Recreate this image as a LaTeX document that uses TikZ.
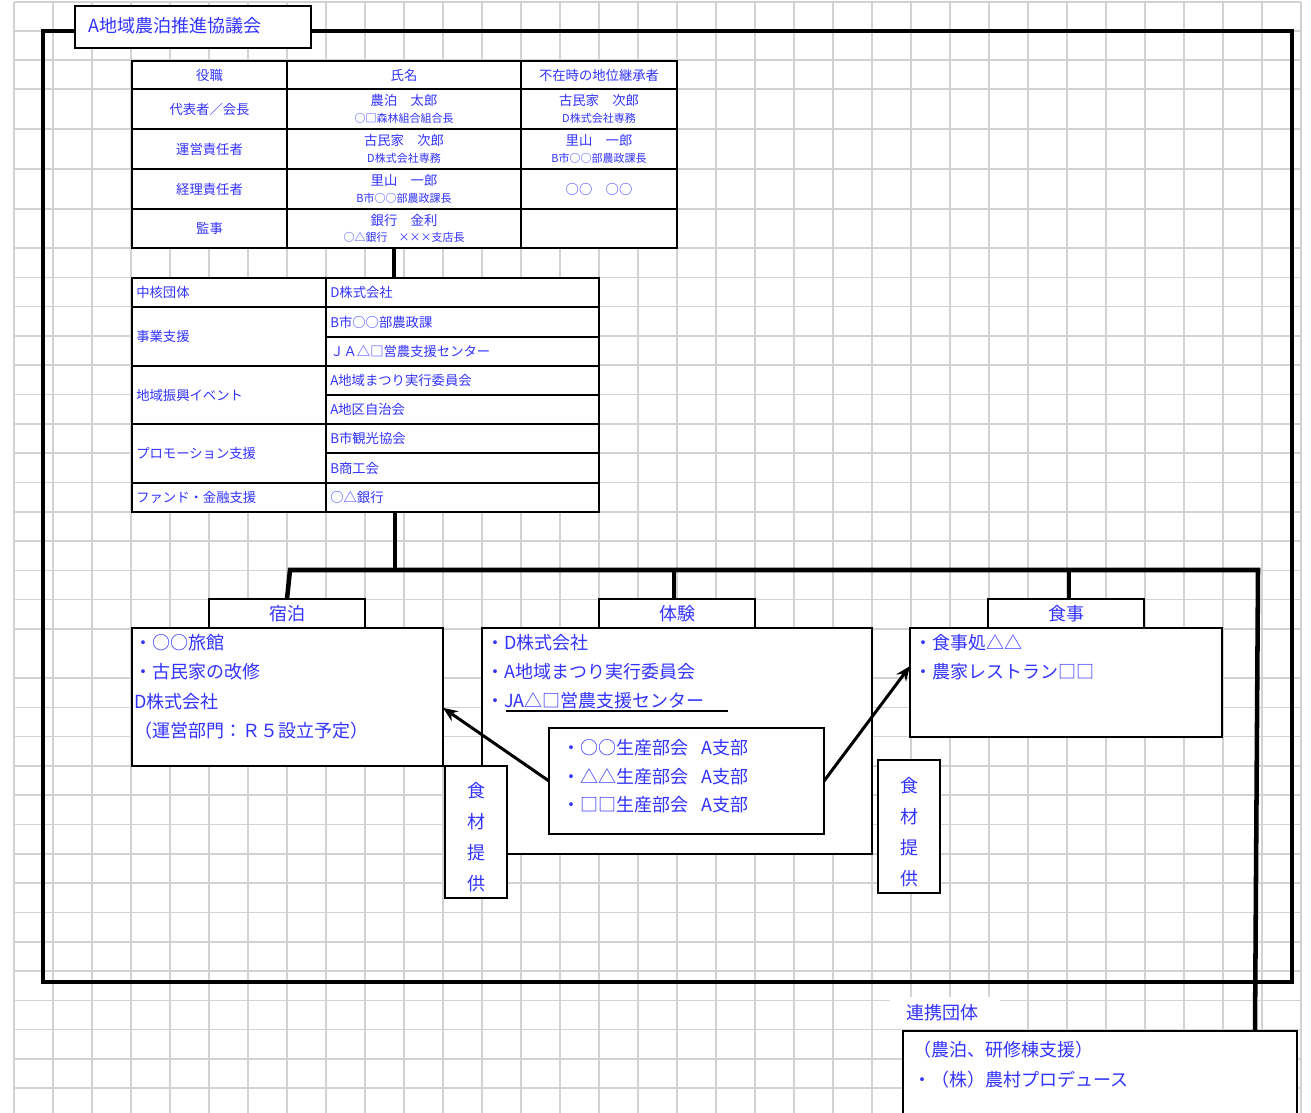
\documentclass[tikz,border=0pt]{standalone}
\usepackage{fontspec}
\newfontfamily\jp{Noto Sans CJK JP}
\usetikzlibrary{arrows.meta,calc}
\definecolor{jb}{RGB}{51,51,255}
\definecolor{gridc}{RGB}{210,210,210}
\newcommand\rbox[7][]{\node[rb,minimum width={(#5-#3)*0.75pt},minimum height={(#6-#4)*0.75pt},#1] (#2) at ({(#3+#5)/2},{(#4+#6)/2}) {#7};}
\tikzset{
  gridl/.style={draw=gridc,line width=1.2pt},
  frame/.style={line width=3pt},
  bus/.style={line width=3.4pt},
  rb/.style={draw=black,fill=white,line width=1.5pt,inner sep=0pt,outer sep=0pt,rectangle},
  thinbox/.style={line width=1.1pt},
  tcell/.style={text=jb,font=\jp\fontsize{10}{12}\selectfont},
  mtxt/.style={text=jb,font=\jp\fontsize{10}{12}\selectfont,inner sep=0pt,anchor=west},
  stxt/.style={text=jb,font=\jp\fontsize{8.25}{10}\selectfont,inner sep=0pt},
  ntxt/.style={text=jb,font=\jp\fontsize{10}{12}\selectfont,inner sep=0pt},
  btxt/.style={text=jb,font=\jp\fontsize{13.5}{16}\selectfont,inner sep=0pt,anchor=west},
  lbl/.style={text=jb,font=\jp\fontsize{13.5}{16}\selectfont},
  vtxt/.style={text=jb,font=\jp\fontsize{13.5}{23.25}\selectfont,align=center,inner sep=0pt},
  arr/.style={line width=2.25pt,-{Stealth[length=11pt,width=9pt]}},
}
\begin{document}
\begin{tikzpicture}[x=0.75pt,y=-0.75pt]
\useasboundingbox (0,0) rectangle (1311,1113);
% grid
\foreach \k in {0,...,33} \draw[gridl] ({14+39*\k},2) -- ({14+39*\k},1113);
\foreach \y in {2,31,60,89,129,169,209,248} \draw[gridl] (14,\y) -- (1301,\y);
\foreach \k in {1,...,13} \draw[gridl] (14,{248+29.3*\k}) -- (1301,{248+29.3*\k});
\foreach \k in {0,...,14} \draw[gridl] (14,{678+29.3*\k}) -- (1301,{678+29.3*\k});
% outer frame
\draw[frame] (43,31) rectangle (1292,982);
% title
\rbox{title}{75}{6}{311}{48}{}
\node[btxt] (titletext) at (88,26) {A地域農泊推進協議会};
% top table
\rbox[tcell]{h1}{132}{61}{287}{89}{役職}
\rbox[tcell]{h2}{287}{61}{521}{89}{氏名}
\rbox[tcell]{h3}{521}{61}{677}{89}{不在時の地位継承者}
\rbox[tcell]{r1a}{132}{89}{287}{129}{代表者／会長}
\rbox{r1b}{287}{89}{521}{129}{}
\rbox{r1c}{521}{89}{677}{129}{}
\rbox[tcell]{r2a}{132}{129}{287}{169}{運営責任者}
\rbox{r2b}{287}{129}{521}{169}{}
\rbox{r2c}{521}{129}{677}{169}{}
\rbox[tcell]{r3a}{132}{169}{287}{209}{経理責任者}
\rbox{r3b}{287}{169}{521}{209}{}
\rbox[tcell]{r3c}{521}{169}{677}{209}{○○　○○}
\rbox[tcell]{r4a}{132}{209}{287}{248}{監事}
\rbox{r4b}{287}{209}{521}{248}{}
\rbox{r4c}{521}{209}{677}{248}{}
\node[ntxt] (n1b) at ($(r1b)+(0,-8.5)$) {農泊　太郎};
\node[stxt] (s1b) at ($(r1b)+(0,9)$) {○□森林組合組合長};
\node[ntxt] (n1c) at ($(r1c)+(0,-8.5)$) {古民家　次郎};
\node[stxt] (s1c) at ($(r1c)+(0,9)$) {D株式会社専務};
\node[ntxt] (n2b) at ($(r2b)+(0,-8.5)$) {古民家　次郎};
\node[stxt] (s2b) at ($(r2b)+(0,9)$) {D株式会社専務};
\node[ntxt] (n2c) at ($(r2c)+(0,-8.5)$) {里山　一郎};
\node[stxt] (s2c) at ($(r2c)+(0,9)$) {B市○○部農政課長};
\node[ntxt] (n3b) at ($(r3b)+(0,-8.5)$) {里山　一郎};
\node[stxt] (s3b) at ($(r3b)+(0,9)$) {B市○○部農政課長};
\node[ntxt] (n4b) at ($(r4b)+(0,-8.5)$) {銀行　金利};
\node[stxt] (s4b) at ($(r4b)+(0,9)$) {○△銀行　×××支店長};
% middle table
\rbox{m1a}{132}{278}{326}{307}{}
\rbox{m2a}{132}{307}{326}{366}{}
\rbox{m3a}{132}{366}{326}{424}{}
\rbox{m4a}{132}{424}{326}{483}{}
\rbox{m5a}{132}{483}{326}{512}{}
\rbox{m1b}{326}{278}{599}{307}{}
\rbox{m2b}{326}{307}{599}{337}{}
\rbox{m2c}{326}{337}{599}{366}{}
\rbox{m3b}{326}{366}{599}{395}{}
\rbox{m3c}{326}{395}{599}{424}{}
\rbox{m4b}{326}{424}{599}{453}{}
\rbox{m4c}{326}{453}{599}{483}{}
\rbox{m5b}{326}{483}{599}{512}{}
\node[mtxt] (tm1a) at ($(m1a.west)+(4,0)$) {中核団体};
\node[mtxt] (tm2a) at ($(m2a.west)+(4,0)$) {事業支援};
\node[mtxt] (tm3a) at ($(m3a.west)+(4,0)$) {地域振興イベント};
\node[mtxt] (tm4a) at ($(m4a.west)+(4,0)$) {プロモーション支援};
\node[mtxt] (tm5a) at ($(m5a.west)+(4,0)$) {ファンド・金融支援};
\node[mtxt] (tm1b) at ($(m1b.west)+(4,0)$) {D株式会社};
\node[mtxt] (tm2b) at ($(m2b.west)+(4,0)$) {B市○○部農政課};
\node[mtxt] (tm2c) at ($(m2c.west)+(4,0)$) {ＪＡ△□営農支援センター};
\node[mtxt] (tm3b) at ($(m3b.west)+(4,0)$) {A地域まつり実行委員会};
\node[mtxt] (tm3c) at ($(m3c.west)+(4,0)$) {A地区自治会};
\node[mtxt] (tm4b) at ($(m4b.west)+(4,0)$) {B市観光協会};
\node[mtxt] (tm4c) at ($(m4c.west)+(4,0)$) {B商工会};
\node[mtxt] (tm5b) at ($(m5b.west)+(4,0)$) {○△銀行};
% bottom boxes
\rbox[lbl]{shl}{209}{599}{365}{628}{宿泊}
\rbox{sh}{132}{628}{443}{766}{}
\rbox[lbl]{tkl}{599}{599}{755}{628}{体験}
\rbox{tk}{482}{628}{872}{854}{}
\rbox[lbl]{sjl}{988}{599}{1144}{628}{食事}
\rbox{sj}{910}{628}{1222}{737}{}
\rbox{inner}{549}{728}{824}{834}{}
\rbox[thinbox]{food1}{445}{766}{507}{898}{}
\rbox[thinbox]{food2}{878}{760}{940}{893}{}
\node[vtxt] (f1t) at ($(food1)+(0,5)$) {食\\材\\提\\供};
\node[vtxt] (f2t) at ($(food2)+(0,5.5)$) {食\\材\\提\\供};
\begin{scope}
\clip (0,0) rectangle (1311,1113);
\rbox[thinbox]{rk}{903}{1031}{1297}{1140}{}
\end{scope}
\rbox[draw=none]{rkl}{890}{997}{1000}{1029}{}
\node[btxt] (rklt) at (906,1013) {連携団体};
% connectors
\coordinate (x394) at (394,0);
\coordinate (x395) at (395,0);
\coordinate (xr) at (1255,0);
\coordinate (busL) at (290,570);
\coordinate (busM) at (395,570);
\coordinate (busT) at (674,570);
\coordinate (busS) at (1069,570);
\coordinate (busR) at (1258,570);
\draw[bus] (r4b.south -| x394) -- (m1b.north -| x394);
\draw[bus] (m5b.south -| x395) -- (busM);
\draw[bus] (shl.north) -- (busL) -- (busR) -- (rk.north -| xr);
\draw[bus] (busT) -- (tkl.north -| busT);
\draw[bus] (busS) -- (sjl.north -| busS);
% texts in boxes
\node[btxt] (sh1) at (134,643) {・○○旅館};
\node[btxt] (sh2) at (134,672) {・古民家の改修};
\node[btxt] (sh3) at (134,702) {D株式会社};
\node[btxt] (sh4) at (134,731) {（運営部門：Ｒ５設立予定）};
\node[btxt] (tk1) at (486,643) {・D株式会社};
\node[btxt] (tk2) at (486,672) {・A地域まつり実行委員会};
\node[btxt] (tk3) at (486,701) {・JA△□営農支援センター};
\draw[line width=1.1pt] (506,711) -- (728,711);
\node[btxt] (in1) at (562,748) {・○○生産部会\hspace{10pt}A支部};
\node[btxt] (in2) at (562,777) {・△△生産部会\hspace{10pt}A支部};
\node[btxt] (in3) at (562,805) {・□□生産部会\hspace{10pt}A支部};
\node[btxt] (sj1) at (914,643) {・食事処△△};
\node[btxt] (sj2) at (914,672) {・農家レストラン□□};
\node[btxt] (rk1) at (913,1050) {（農泊、研修棟支援）};
\node[btxt] (rk2) at (913,1080) {・（株）農村プロデュース};
% arrows
\draw[arr] (inner.west) -- (sh.-4.2);
\draw[arr] (inner.east) -- (sj.174);
\end{tikzpicture}
\end{document}
